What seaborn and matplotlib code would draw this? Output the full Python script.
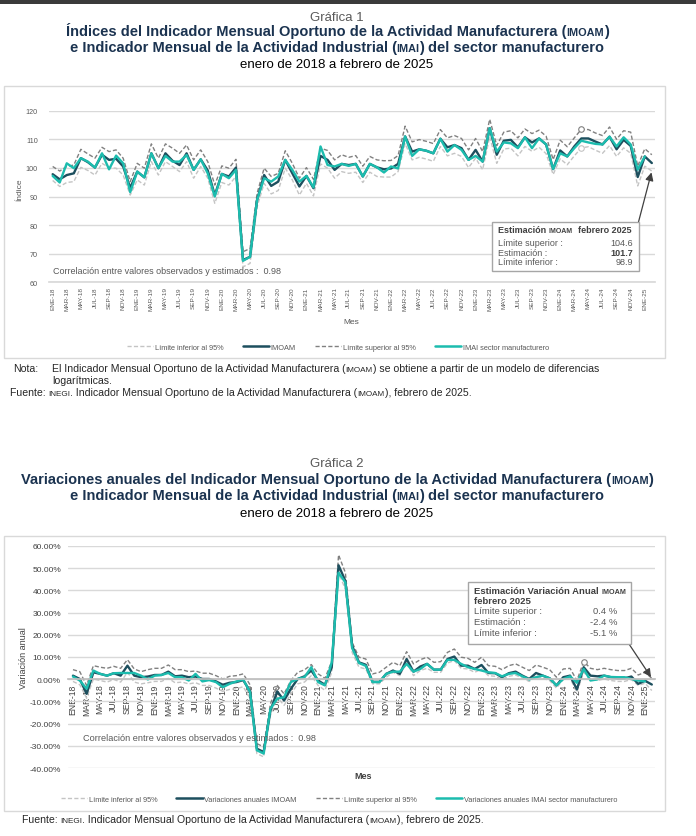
import matplotlib
matplotlib.use("Agg")
import matplotlib.pyplot as plt
from matplotlib import font_manager
from matplotlib.patches import Rectangle
from matplotlib.lines import Line2D
from matplotlib.ticker import FuncFormatter
import seaborn as sns

# --- data ---
meses = ["ENE", "FEB", "MAR", "ABR", "MAY", "JUN", "JUL", "AGO", "SEP", "OCT", "NOV", "DIC"]
anios = ["18", "19", "20", "21", "22", "23", "24", "25"]
etiquetas = [f"{m}-{a}" for a in anios for m in meses][:86]
x_meses = list(range(86))

# Grafica 1: indices
imoam_idx = [97.8, 96.0, 97.5, 98.1, 103.4, 102.0, 100.1, 104.6, 102.8, 103.2,
             100.5, 93.0, 98.7, 96.7, 105.1, 99.9, 105.1, 102.5, 101.0, 105.1,
             99.3, 103.0, 99.1, 90.5, 97.9, 97.0, 100.1, 67.8, 68.9, 88.8,
             97.5, 93.7, 95.2, 102.8, 98.1, 93.5, 97.2, 92.9, 104.2, 102.8,
             99.3, 101.4, 101.0, 101.4, 97.0, 101.4, 100.2, 99.5, 99.8, 101.4,
             111.0, 105.7, 106.5, 106.0, 105.1, 110.2, 107.2, 108.0, 106.9, 102.8,
             106.3, 102.2, 113.9, 104.6, 109.5, 109.8, 107.2, 110.7, 108.9, 110.3,
             108.2, 99.6, 106.1, 104.0, 107.5, 110.3, 110.3, 109.2, 108.2, 110.9,
             106.5, 109.8, 107.7, 96.8, 104.0, 101.7]
imai_idx = [97.2, 94.9, 101.6, 99.9, 103.4, 102.2, 100.1, 105.1, 99.5, 104.3,
            101.6, 91.5, 98.7, 96.7, 105.1, 99.9, 104.2, 102.2, 102.2, 104.5,
            99.3, 103.0, 98.1, 90.0, 97.9, 96.4, 99.3, 67.5, 68.9, 88.8,
            96.4, 95.2, 97.0, 102.8, 99.3, 95.2, 97.2, 93.2, 107.5, 101.0,
            100.5, 101.4, 100.7, 101.4, 97.0, 101.4, 100.2, 98.4, 100.5, 99.8,
            111.0, 104.2, 106.5, 106.0, 105.1, 110.2, 105.7, 108.0, 106.3, 102.8,
            104.2, 102.2, 113.9, 105.7, 108.9, 108.6, 106.9, 110.7, 106.9, 110.3,
            108.2, 99.6, 105.1, 104.0, 106.9, 109.5, 108.9, 108.4, 108.2, 110.9,
            107.5, 110.7, 108.2, 99.4, 104.0]
sup_idx = [100.5, 98.9, 100.5, 101.0, 106.5, 104.9, 103.4, 107.2, 105.7, 106.3,
           103.4, 95.2, 101.6, 99.9, 108.4, 103.4, 108.4, 106.9, 105.1, 108.0,
           102.8, 106.3, 102.2, 94.0, 100.7, 99.9, 103.0, 70.7, 71.8, 91.1,
           99.9, 97.0, 98.1, 106.0, 101.6, 96.4, 100.1, 96.0, 106.9, 106.1,
           102.8, 104.6, 103.7, 104.3, 100.6, 104.0, 102.8, 102.5, 102.6, 104.3,
           114.6, 109.1, 109.9, 109.3, 108.5, 113.4, 110.5, 111.3, 110.3, 106.3,
           110.3, 105.7, 117.0, 107.8, 112.5, 113.0, 110.5, 113.6, 112.0, 113.2,
           111.1, 102.9, 109.7, 107.4, 110.5, 113.5, 113.4, 112.2, 111.3, 114.3,
           110.0, 113.0, 112.5, 100.6, 106.7, 104.6]
inf_idx = [95.6, 93.5, 94.9, 95.2, 100.2, 99.1, 97.5, 101.6, 100.1, 99.9,
           97.5, 90.5, 95.8, 94.0, 102.2, 97.5, 102.2, 100.5, 98.7, 102.2,
           96.4, 100.5, 96.4, 87.6, 94.9, 94.0, 97.0, 65.4, 66.6, 86.4,
           94.6, 90.9, 92.1, 99.9, 95.8, 90.5, 94.6, 90.2, 101.4, 99.9,
           96.4, 98.7, 98.1, 98.5, 94.9, 98.5, 97.0, 96.8, 96.8, 98.7,
           108.5, 102.8, 103.7, 103.1, 102.3, 107.5, 104.2, 105.1, 104.0, 100.1,
           103.4, 99.4, 110.9, 101.6, 106.6, 106.9, 104.2, 107.5, 105.8, 107.2,
           105.0, 97.7, 103.2, 101.1, 104.2, 107.0, 107.4, 106.2, 105.1, 107.8,
           104.0, 107.0, 105.1, 93.7, 100.6, 98.9]

# Grafica 2: variaciones anuales (%)
imoam_var = [1.6, 0.1, -6.6, 3.1, 2.4, 1.6, 2.7, 1.6, 6.1, 1.6,
             0.9, 1.2, 1.9, 1.9, 3.4, 1.3, 1.6, 0.9, 1.2, 0.1,
             0.1, -1.0, -2.5, -1.6, -1.3, -0.4, -5.5, -31.3, -32.8, -14.1,
             -5.5, -9.6, -4.3, 0.1, 1.3, 3.9, -0.6, -2.5, 5.4, 51.3,
             44.3, 15.0, 7.6, 6.5, -1.2, -1.2, 2.4, 3.9, 2.4, 9.1,
             3.4, 5.7, 6.9, 4.3, 4.3, 9.1, 10.2, 6.1, 6.1, 4.6,
             6.4, 2.8, 2.7, 0.9, 2.7, 3.4, 1.6, 0.1, 2.8, 1.6,
             0.4, -2.8, 0.9, 1.6, -4.6, 5.4, 1.6, 1.3, 1.6, 0.9,
             0.4, 0.4, 1.2, -2.1, -0.7, -2.4]
imai_var = [1.2, -0.6, -4.3, 3.9, 2.4, 1.6, 2.7, 2.8, 2.8, 2.8,
            1.6, -0.1, 1.6, 1.9, 2.8, 0.9, 0.9, -0.6, 2.4, -1.0,
            -0.4, -1.3, -3.6, -2.1, -1.0, -0.1, -5.8, -32.0, -33.5, -13.3,
            -8.8, -8.1, -1.3, 0.1, 0.9, 5.4, -1.3, -2.8, 7.6, 48.0,
            43.6, 14.0, 7.3, 6.0, -1.3, -1.3, 2.4, 3.4, 3.4, 6.9,
            3.4, 4.6, 6.9, 4.3, 4.3, 8.7, 8.7, 6.9, 5.4, 4.6,
            3.9, 3.1, 2.8, 1.3, 2.4, 2.8, 1.3, -0.1, 0.9, 1.6,
            0.4, -2.8, 0.1, 1.3, -1.6, 4.6, -0.6, -0.1, 1.6, 1.0,
            0.9, 0.9, 0.1, -0.6, -1.0]
sup_var = [4.3, 3.4, -2.8, 6.1, 5.4, 4.9, 5.8, 4.9, 8.8, 4.6,
           3.4, 4.3, 4.9, 4.9, 6.4, 4.3, 4.3, 3.4, 3.7, 2.7,
           2.7, 1.6, 0.1, 1.3, 1.6, 2.4, -2.5, -29.0, -30.5, -11.0,
           -2.8, -6.6, -0.6, 3.1, 4.2, 6.6, 2.4, 0.4, 8.0, 56.0,
           48.0, 16.5, 9.9, 9.1, 2.4, 3.1, 5.4, 7.6, 6.1, 12.4,
           6.9, 8.8, 9.9, 7.6, 7.9, 12.1, 13.6, 9.9, 9.4, 7.6,
           9.9, 6.1, 5.8, 4.3, 6.1, 6.9, 5.4, 3.9, 6.4, 5.4,
           4.3, 0.9, 4.6, 4.9, -0.6, 7.9, 4.9, 4.3, 4.9, 4.3,
           3.9, 3.9, 4.9, 1.9, 3.1, 0.4]
inf_var = [-1.0, -2.5, -8.5, 0.1, -0.6, -1.3, -0.1, -1.3, 3.1, -1.3,
           -2.1, -1.6, -1.0, -1.0, 0.4, -1.6, -1.3, -2.1, -1.6, -2.8,
           -2.8, -4.0, -5.5, -4.6, -4.3, -3.4, -8.5, -33.5, -35.0, -16.3,
           -8.1, -11.8, -6.6, -2.1, -1.3, 1.6, -2.8, -5.0, 3.1, 48.0,
           40.5, 12.0, 5.4, 4.6, -2.1, -2.1, 0.9, 3.1, 1.6, 7.9,
           1.6, 3.9, 4.9, 3.1, 3.1, 7.3, 8.4, 4.9, 4.6, 3.1,
           4.6, 1.6, 1.3, -0.1, 1.3, 1.9, 0.4, -1.0, 1.6, 0.4,
           -0.6, -4.0, -0.1, 0.4, -5.8, 3.1, 0.1, -0.6, 0.1, -0.6,
           -1.0, -1.0, -0.1, -2.8, -1.8, -5.1]

# --- style ---
C_IMOAM = "#1d4f5e"
C_IMAI = "#1cbcae"
C_SUP = "#808080"
C_INF = "#c4c4c4"
C_GRID = "#d9d9d9"
C_TXT = "#595959"
C_DARK = "#404040"
C_TITLE = "#1b3350"
NOTE_PT = 7.6
NOTE_SC = 5.9

sns.set_theme(style="white")
available = {f.name for f in font_manager.fontManager.ttflist}
NARROW = "Liberation Sans Narrow" if "Liberation Sans Narrow" in available else "Liberation Sans"
plt.rcParams["font.family"] = ["Liberation Sans", "DejaVu Sans"]

W, H = 696, 837
fig = plt.figure(figsize=(W / 100, H / 100), dpi=100)
renderer = fig.canvas.get_renderer()


def fx(x):
    return x / W


def fy(y):
    return 1 - y / H


def rect(x0, y0, x1, y1):
    return [x0 / W, 1 - y1 / H, (x1 - x0) / W, (y1 - y0) / H]


def text_width(s, size, **kw):
    # width of s incl. spaces, measured between two bars
    t = fig.text(0, 0, "|" + s + "|", fontsize=size, **kw)
    w = t.get_window_extent(renderer).width
    t.remove()
    t = fig.text(0, 0, "||", fontsize=size, **kw)
    w -= t.get_window_extent(renderer).width
    t.remove()
    return w


def put_parts(x, y, parts, ha="center", **kw):
    # parts: list of (string, fontsize); y is the baseline in pixels
    widths = [text_width(s, size, **kw) for s, size in parts]
    total = sum(widths)
    x0 = x - total / 2 if ha == "center" else x
    for (s, size), w in zip(parts, widths):
        fig.text(fx(x0), fy(y), s, fontsize=size, va="baseline", ha="left", **kw)
        x0 += w


def frame(x0, y0, x1, y1):
    fig.add_artist(Rectangle((fx(x0), fy(y1)), (x1 - x0) / W, (y1 - y0) / H,
                             transform=fig.transFigure, fill=False,
                             edgecolor=C_GRID, linewidth=1))


def draw_series(ax, inf, sup, imoam, imai):
    sns.lineplot(x=x_meses[:len(inf)], y=inf, ax=ax, color=C_INF, linewidth=1.0,
                 linestyle=(0, (3, 1.6)))
    sns.lineplot(x=x_meses[:len(sup)], y=sup, ax=ax, color=C_SUP, linewidth=1.0,
                 linestyle=(0, (3, 1.6)))
    sns.lineplot(x=x_meses[:len(imoam)], y=imoam, ax=ax, color=C_IMOAM, linewidth=1.7)
    sns.lineplot(x=x_meses[:len(imai)], y=imai, ax=ax, color=C_IMAI, linewidth=1.7)


def month_axis(ax, size, color):
    ax.set_xticks(x_meses[::2])
    ax.set_xticklabels(etiquetas[::2], rotation=90, fontsize=size, color=color)
    ax.set_xticks([i - 0.5 for i in x_meses[2::2]], minor=True)
    ax.tick_params(axis="x", which="major", length=0, pad=3)
    ax.tick_params(axis="x", which="minor", length=4, color=C_GRID, width=1)


# top dark band
fig.add_artist(Rectangle((0, fy(5)), 1, 5 / H, transform=fig.transFigure,
                         facecolor="#3a3a3a", edgecolor="none"))

# ================= Grafica 1 =================
CX = 337
fig.text(fx(CX), fy(21), "Gráfica 1", ha="center", va="baseline", fontsize=9.5,
         color=C_TXT, family=NARROW)
put_parts(CX, 36, [("Índices del Indicador Mensual Oportuno de la Actividad Manufacturera (", 10.5),
                   ("IMOAM", 7.8), (")", 10.5)], color=C_TITLE, weight="bold", family=NARROW)
put_parts(CX, 52, [("e Indicador Mensual de la Actividad Industrial (", 10.5), ("IMAI", 7.8),
                   (") del sector manufacturero", 10.5)], color=C_TITLE, weight="bold", family=NARROW)
fig.text(fx(CX), fy(68), "enero de 2018 a febrero de 2025", ha="center", va="baseline",
         fontsize=9.5, color="black", family=NARROW)

frame(4, 87, 665, 359)
ax1 = fig.add_axes(rect(49, 111.7, 655, 283.3))
draw_series(ax1, inf_idx, sup_idx, imoam_idx, imai_idx)
ax1.plot([x_meses[75]], [sup_idx[75]], marker="o", ms=4, mfc="white", mec=C_SUP, mew=0.8)
ax1.plot([x_meses[75]], [inf_idx[75]], marker="o", ms=4, mfc="white", mec=C_INF, mew=0.8)
ax1.set_xlim(-0.52, 85.45)
ax1.set_ylim(60, 120)
ax1.set_yticks(range(60, 121, 10))
ax1.yaxis.grid(True, color=C_GRID, linewidth=1)
ax1.tick_params(axis="y", length=0, labelsize=5.2, labelcolor=C_TXT, pad=8)
for s in ["top", "right", "left"]:
    ax1.spines[s].set_visible(False)
ax1.spines["bottom"].set_color(C_GRID)
month_axis(ax1, 4.6, C_TXT)
ax1.set_xlabel("")
ax1.set_ylabel("")
fig.text(fx(20), fy(190), "Índice", rotation=90, ha="center", va="center", fontsize=6,
         color=C_TXT)
fig.text(fx(351), fy(323), "Mes", ha="center", va="center", fontsize=6, color=C_TXT)
fig.text(fx(53), fy(272), "Correlación entre valores observados y estimados :  0.98",
         ha="left", va="center", fontsize=6.5, color=C_TXT)

# estimation box
fig.add_artist(Rectangle((fx(492), fy(272)), (639 - 492) / W, (272 - 223) / H,
                         transform=fig.transFigure, facecolor="white",
                         edgecolor="#a6a6a6", linewidth=1, zorder=5))
put_parts(498, 233.5, [("Estimación ", 6.5), ("IMOAM", 5.0), ("  febrero 2025", 6.5)],
          ha="left", color=C_DARK, weight="bold", zorder=6)
for yy, lab, val, wt in [(245.5, "Límite superior :", "104.6", "normal"),
                         (255.5, "Estimación :", "101.7", "bold"),
                         (265.5, "Límite inferior :", "98.9", "normal")]:
    fig.text(fx(498), fy(yy), lab, ha="left", va="baseline", fontsize=6.5, color=C_TXT, zorder=6)
    fig.text(fx(633), fy(yy), val, ha="right", va="baseline", fontsize=6.5, zorder=6,
             color=C_DARK if wt == "bold" else C_TXT, weight=wt)
ax1.annotate("", xy=(x_meses[85], inf_idx[85]), xycoords="data",
             xytext=(fx(638.5), fy(223)), textcoords="figure fraction",
             arrowprops=dict(arrowstyle="-|>,head_length=0.4,head_width=0.2",
                             color=C_DARK, lw=0.9, shrinkA=0, shrinkB=1))

leg_handles = [Line2D([], [], color=C_INF, lw=1, ls=(0, (3, 1.6))),
               Line2D([], [], color=C_IMOAM, lw=1.8),
               Line2D([], [], color=C_SUP, lw=1, ls=(0, (3, 1.6))),
               Line2D([], [], color=C_IMAI, lw=1.8)]
ax1.legend(leg_handles, ["Límite inferior al 95%", "IMOAM", "Límite superior al 95%",
                         "IMAI sector manufacturero"],
           loc="center", bbox_to_anchor=(fx(338), fy(348)), bbox_transform=fig.transFigure,
           ncol=4, frameon=False, handlelength=3.6, handletextpad=0.2,
           columnspacing=2.6, labelcolor=C_TXT, prop={"family": NARROW, "size": 5.3})

# notes
fig.text(fx(13), fy(372), "Nota:", ha="left", va="baseline", fontsize=NOTE_PT, color="#262626",
         family=NARROW)
put_parts(52, 372, [("El Indicador Mensual Oportuno de la Actividad Manufacturera (", NOTE_PT),
                    ("IMOAM", NOTE_SC),
                    (") se obtiene a partir de un modelo de diferencias", NOTE_PT)],
          ha="left", color="#262626", family=NARROW)
fig.text(fx(52), fy(384), "logarítmicas.", ha="left", va="baseline", fontsize=NOTE_PT,
         color="#262626", family=NARROW)
fuente_parts = [("Fuente: ", NOTE_PT), ("INEGI", NOTE_SC),
                (". Indicador Mensual Oportuno de la Actividad Manufacturera (", NOTE_PT),
                ("IMOAM", NOTE_SC), ("), febrero de 2025.", NOTE_PT)]
put_parts(10, 396, fuente_parts, ha="left", color="#262626", family=NARROW)

# ================= Grafica 2 =================
fig.text(fx(CX), fy(467), "Gráfica 2", ha="center", va="baseline", fontsize=9.5,
         color=C_TXT, family=NARROW)
put_parts(CX, 484, [("Variaciones anuales del Indicador Mensual Oportuno de la Actividad Manufacturera (", 10.5),
                    ("IMOAM", 7.8), (")", 10.5)], color=C_TITLE, weight="bold", family=NARROW)
put_parts(CX, 500, [("e Indicador Mensual de la Actividad Industrial (", 10.5), ("IMAI", 7.8),
                    (") del sector manufacturero", 10.5)], color=C_TITLE, weight="bold", family=NARROW)
fig.text(fx(CX), fy(517), "enero de 2018 a febrero de 2025", ha="center", va="baseline",
         fontsize=9.5, color="black", family=NARROW)

frame(4, 537, 665, 812)
ax2 = fig.add_axes(rect(68, 547, 655, 769))
draw_series(ax2, inf_var, sup_var, imoam_var, imai_var)
ax2.plot([x_meses[75]], [sup_var[75]], marker="o", ms=4, mfc="white", mec=C_SUP, mew=0.8)
ax2.set_xlim(-0.73, 85.47)
ax2.set_ylim(-40, 60)
ax2.set_yticks(range(-40, 61, 10))
ax2.yaxis.set_major_formatter(FuncFormatter(lambda v, p: f"{v:.2f}%"))
ax2.yaxis.grid(True, color=C_GRID, linewidth=1)
ax2.tick_params(axis="y", length=0, labelsize=6, labelcolor=C_DARK, pad=5)
for s in ["top", "right", "left"]:
    ax2.spines[s].set_visible(False)
ax2.spines["bottom"].set_position(("data", 0))
ax2.spines["bottom"].set_color("#bfbfbf")
month_axis(ax2, 6.2, C_DARK)
ax2.set_xlabel("")
ax2.set_ylabel("")
fig.text(fx(23), fy(658), "Variación anual", rotation=90, ha="center", va="center",
         fontsize=6.5, color=C_DARK)
fig.text(fx(363), fy(777), "Mes", ha="center", va="center", fontsize=6.5, color=C_DARK,
         weight="bold")
fig.text(fx(83), fy(739), "Correlación entre valores observados y estimados :  0.98",
         ha="left", va="center", fontsize=6.6, color=C_TXT)

fig.add_artist(Rectangle((fx(468), fy(645)), (631 - 468) / W, (645 - 583) / H,
                         transform=fig.transFigure, facecolor="white",
                         edgecolor="#a6a6a6", linewidth=1, zorder=5))
put_parts(474, 594.5, [("Estimación Variación Anual ", 6.8), ("IMOAM", 5.2)],
          ha="left", color=C_DARK, weight="bold", zorder=6)
fig.text(fx(474), fy(604.5), "febrero 2025", ha="left", va="baseline", fontsize=6.8,
         color=C_DARK, weight="bold", zorder=6)
for yy, lab, val in [(614.5, "Límite superior :", "0.4 %"),
                     (625, "Estimación :", "-2.4 %"),
                     (635.5, "Límite inferior :", "-5.1 %")]:
    fig.text(fx(474), fy(yy), lab, ha="left", va="baseline", fontsize=6.8, color=C_TXT, zorder=6)
    fig.text(fx(617), fy(yy), val, ha="right", va="baseline", fontsize=6.8, color=C_TXT, zorder=6)
ax2.annotate("", xy=(x_meses[85], sup_var[85]), xycoords="data",
             xytext=(fx(629), fy(645)), textcoords="figure fraction",
             arrowprops=dict(arrowstyle="-|>,head_length=0.4,head_width=0.2",
                             color=C_DARK, lw=0.9, shrinkA=0, shrinkB=1))

ax2.legend(leg_handles, ["Límite inferior al 95%", "Variaciones anuales IMOAM",
                         "Límite superior al 95%",
                         "Variaciones anuales IMAI sector manufacturero"],
           loc="center", bbox_to_anchor=(fx(339), fy(800)), bbox_transform=fig.transFigure,
           ncol=4, frameon=False, handlelength=3.6, handletextpad=0.2,
           columnspacing=2.6, labelcolor=C_TXT, prop={"family": NARROW, "size": 5.3})

put_parts(22, 823, fuente_parts, ha="left", color="#262626", family=NARROW)

fig.savefig("out.png", dpi=100, facecolor="white")
